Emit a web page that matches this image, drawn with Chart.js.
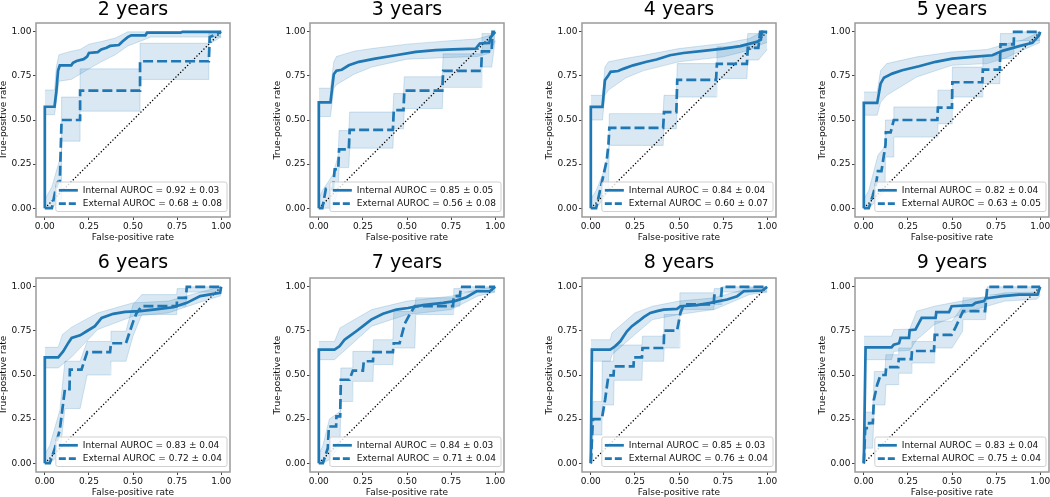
<!DOCTYPE html>
<html>
<head>
<meta charset="utf-8">
<script src="https://cdn.jsdelivr.net/npm/chart.js@4.4.0/dist/chart.umd.min.js"></script>
<style>
  html, body { margin: 0; padding: 0; background: #fff; }
  #wrap { position: relative; width: 1050px; height: 497px; overflow: hidden; }
  #wrap canvas { position: absolute; }
</style>
</head>
<body>
<div id="wrap"></div>
<script>
  // panel titles and AUROC (mean, sd)
  const titles = ['2 years', '3 years', '4 years', '5 years', '6 years', '7 years', '8 years', '9 years'];
  const intAuc = [0.92, 0.85, 0.84, 0.82, 0.83, 0.84, 0.85, 0.83];
  const intSd  = [0.03, 0.05, 0.04, 0.04, 0.04, 0.03, 0.03, 0.04];
  const extAuc = [0.68, 0.56, 0.60, 0.63, 0.72, 0.71, 0.76, 0.75];
  const extSd  = [0.08, 0.08, 0.07, 0.05, 0.04, 0.04, 0.04, 0.04];
  const tickVals = [0, 0.25, 0.5, 0.75, 1];

  // curves: [fpr, tpr]; bands: [fpr, lower, upper]
  const int2 = [[0,0],[0,0.575],[0.055,0.575],[0.065,0.66],[0.075,0.78],[0.085,0.81],[0.15,0.81],[0.16,0.825],[0.18,0.835],[0.22,0.845],[0.24,0.86],[0.25,0.88],[0.3,0.885],[0.32,0.9],[0.35,0.91],[0.37,0.92],[0.42,0.925],[0.44,0.945],[0.47,0.97],[0.49,0.98],[0.57,0.98],[0.58,0.995],[0.77,0.995],[0.78,1],[1,1]];
  const int2Band = [[0,0.53,0.67],[0.055,0.53,0.67],[0.065,0.6,0.8],[0.08,0.72,0.87],[0.15,0.73,0.89],[0.2,0.76,0.9],[0.25,0.79,0.93],[0.32,0.83,0.945],[0.4,0.87,0.965],[0.47,0.92,1],[0.55,0.95,1],[0.6,0.97,1],[1,0.97,1]];
  const ext2 = [[0,0],[0.04,0],[0.06,0.1],[0.075,0.15],[0.085,0.15],[0.095,0.5],[0.2,0.5],[0.2,0.667],[0.54,0.667],[0.54,0.833],[0.93,0.833],[0.935,0.97],[1,1]];
  const ext2Band = [[0,0,0.05],[0.04,0,0.12],[0.085,0.05,0.28],[0.095,0.05,0.28],[0.095,0.38,0.63],[0.2,0.38,0.63],[0.2,0.55,0.79],[0.54,0.55,0.79],[0.54,0.73,0.935],[0.93,0.73,0.935],[0.93,0.93,1],[1,0.97,1]];

  const int3 = [[0,0],[0,0.6],[0.066,0.6],[0.085,0.76],[0.1,0.78],[0.13,0.785],[0.17,0.81],[0.227,0.83],[0.32,0.848],[0.436,0.867],[0.55,0.886],[0.663,0.896],[0.758,0.9],[0.89,0.905],[0.913,0.934],[0.966,0.937],[0.975,0.97],[1,1]];
  const int3Band = [[0,0.52,0.68],[0.066,0.52,0.68],[0.085,0.68,0.83],[0.1,0.7,0.86],[0.2,0.76,0.89],[0.3,0.8,0.905],[0.5,0.845,0.93],[0.75,0.855,0.95],[0.9,0.86,0.96],[0.97,0.88,0.98],[1,0.95,1]];
  const ext3 = [[0,0],[0.02,0],[0.04,0.11],[0.08,0.11],[0.09,0.22],[0.11,0.22],[0.115,0.333],[0.17,0.333],[0.175,0.444],[0.42,0.444],[0.425,0.556],[0.48,0.556],[0.485,0.667],[0.7,0.667],[0.705,0.778],[0.92,0.778],[0.925,0.889],[0.98,0.889],[0.985,1],[1,1]];
  const ext3Band = [[0,0,0.05],[0.02,0,0.1],[0.08,0,0.19],[0.11,0.1,0.3],[0.115,0.23,0.44],[0.17,0.23,0.44],[0.175,0.34,0.545],[0.42,0.34,0.545],[0.425,0.45,0.65],[0.48,0.45,0.65],[0.485,0.565,0.745],[0.7,0.565,0.745],[0.705,0.685,0.875],[0.92,0.685,0.875],[0.925,0.8,0.99],[0.98,0.8,0.99],[1,0.95,1]];

  const int4 = [[0,0],[0,0.574],[0.066,0.574],[0.08,0.725],[0.1,0.754],[0.112,0.773],[0.155,0.778],[0.184,0.79],[0.24,0.81],[0.316,0.83],[0.373,0.843],[0.449,0.867],[0.525,0.88],[0.638,0.892],[0.752,0.905],[0.847,0.919],[0.941,0.943],[0.964,0.956],[0.97,1],[1,1]];
  const int4Band = [[0,0.5,0.64],[0.066,0.5,0.64],[0.08,0.64,0.8],[0.1,0.67,0.83],[0.2,0.74,0.85],[0.3,0.78,0.867],[0.5,0.83,0.905],[0.75,0.858,0.934],[0.9,0.896,0.962],[0.97,0.93,1],[1,0.94,1]];
  const ext4 = [[0,0],[0.03,0],[0.05,0.09],[0.07,0.18],[0.09,0.27],[0.1,0.36],[0.105,0.455],[0.41,0.455],[0.415,0.545],[0.485,0.545],[0.49,0.727],[0.71,0.727],[0.715,0.818],[0.885,0.818],[0.89,0.909],[0.95,0.909],[0.96,1],[1,1]];
  const ext4Band = [[0,0,0.05],[0.03,0,0.1],[0.07,0.05,0.2],[0.1,0.1,0.3],[0.105,0.356,0.536],[0.41,0.356,0.536],[0.415,0.45,0.64],[0.485,0.45,0.64],[0.49,0.63,0.82],[0.71,0.63,0.82],[0.715,0.735,0.915],[0.885,0.735,0.915],[0.89,0.84,0.99],[0.95,0.84,0.99],[1,0.9,1]];

  const int5 = [[0,0],[0,0.597],[0.076,0.597],[0.095,0.706],[0.114,0.74],[0.161,0.763],[0.218,0.782],[0.313,0.805],[0.407,0.83],[0.502,0.848],[0.616,0.858],[0.729,0.867],[0.786,0.892],[0.881,0.919],[0.956,0.9375],[0.994,0.98],[1,1]];
  const int5Band = [[0,0.527,0.659],[0.076,0.527,0.659],[0.095,0.6,0.78],[0.13,0.64,0.82],[0.3,0.744,0.858],[0.5,0.81,0.886],[0.7,0.82,0.9],[0.8,0.85,0.93],[0.9,0.896,0.953],[1,0.94,1]];
  const ext5 = [[0,0],[0.028,0],[0.05,0.07],[0.07,0.14],[0.08,0.21],[0.1,0.21],[0.123,0.36],[0.125,0.43],[0.152,0.43],[0.17,0.5],[0.417,0.5],[0.42,0.57],[0.5,0.57],[0.502,0.714],[0.672,0.714],[0.675,0.786],[0.771,0.786],[0.775,0.929],[0.85,0.929],[0.852,1],[1,1]];
  const ext5Band = [[0,0,0.05],[0.028,0,0.1],[0.08,0.05,0.3],[0.12,0.1,0.35],[0.123,0.29,0.5],[0.17,0.29,0.5],[0.17,0.403,0.574],[0.417,0.403,0.574],[0.42,0.479,0.669],[0.5,0.479,0.669],[0.502,0.63,0.8],[0.672,0.63,0.8],[0.675,0.706,0.867],[0.771,0.706,0.867],[0.775,0.848,0.99],[0.85,0.848,0.99],[0.852,0.95,1],[1,0.95,1]];

  const int6 = [[0,0],[0,0.6],[0.076,0.6],[0.104,0.634],[0.133,0.682],[0.152,0.71],[0.2,0.725],[0.237,0.748],[0.284,0.777],[0.322,0.824],[0.388,0.847],[0.455,0.858],[0.54,0.862],[0.616,0.871],[0.729,0.884],[0.805,0.909],[0.881,0.947],[0.956,0.96],[0.994,0.966],[1,1]];
  const int6Band = [[0,0.54,0.657],[0.076,0.54,0.657],[0.1,0.56,0.73],[0.15,0.6,0.77],[0.3,0.758,0.852],[0.5,0.833,0.909],[0.7,0.852,0.919],[0.9,0.919,0.975],[1,0.95,1]];
  const ext6 = [[0,0],[0.028,0],[0.057,0.085],[0.085,0.19],[0.114,0.42],[0.14,0.42],[0.142,0.53],[0.208,0.53],[0.24,0.63],[0.37,0.63],[0.375,0.68],[0.46,0.68],[0.5,0.8],[0.52,0.85],[0.55,0.89],[0.748,0.89],[0.75,0.9375],[0.8,0.9375],[0.805,1],[1,1]];
  const ext6Band = [[0,0,0.05],[0.028,0,0.1],[0.085,0.05,0.3],[0.114,0.31,0.578],[0.2,0.31,0.578],[0.24,0.5,0.69],[0.37,0.5,0.69],[0.375,0.578,0.748],[0.46,0.578,0.748],[0.5,0.72,0.9],[0.55,0.843,0.956],[0.748,0.843,0.956],[0.75,0.89,0.99],[0.8,0.89,0.99],[0.805,0.97,1],[1,0.97,1]];

  const int7 = [[0,0],[0,0.644],[0.089,0.644],[0.117,0.663],[0.146,0.7],[0.174,0.72],[0.212,0.748],[0.25,0.777],[0.297,0.814],[0.364,0.847],[0.44,0.871],[0.506,0.88],[0.59,0.896],[0.705,0.909],[0.77,0.919],[0.837,0.941],[0.894,0.975],[0.97,0.975],[1,1]];
  const int7Band = [[0,0.587,0.69],[0.089,0.587,0.69],[0.12,0.615,0.767],[0.3,0.777,0.871],[0.5,0.843,0.919],[0.75,0.871,0.947],[0.9,0.947,0.985],[1,0.97,1]];
  const ext7 = [[0,0],[0.023,0],[0.051,0.085],[0.057,0.208],[0.098,0.208],[0.1,0.265],[0.121,0.265],[0.125,0.473],[0.174,0.473],[0.193,0.525],[0.25,0.525],[0.255,0.578],[0.307,0.578],[0.31,0.63],[0.42,0.63],[0.425,0.68],[0.458,0.68],[0.487,0.79],[0.515,0.843],[0.544,0.89],[0.761,0.89],[0.765,0.947],[0.8,0.947],[0.805,1],[1,1]];
  const ext7Band = [[0,0,0.05],[0.023,0,0.1],[0.06,0.02,0.25],[0.12,0.1,0.293],[0.125,0.35,0.54],[0.19,0.35,0.54],[0.193,0.464,0.634],[0.307,0.464,0.634],[0.31,0.559,0.7],[0.42,0.559,0.7],[0.425,0.653,0.86],[0.544,0.653,0.86],[0.55,0.843,0.9375],[0.761,0.843,0.9375],[0.765,0.89,0.99],[0.8,0.89,0.99],[0.805,0.97,1],[1,0.97,1]];

  const int8 = [[0,0],[0.006,0.644],[0.11,0.644],[0.138,0.663],[0.167,0.691],[0.186,0.72],[0.205,0.748],[0.233,0.777],[0.271,0.805],[0.3,0.828],[0.337,0.852],[0.375,0.862],[0.413,0.871],[0.489,0.875],[0.508,0.89],[0.602,0.896],[0.678,0.909],[0.773,0.928],[0.83,0.947],[0.867,0.975],[0.972,0.979],[1,1]];
  const int8Band = [[0,0.578,0.7],[0.11,0.578,0.7],[0.12,0.615,0.739],[0.25,0.73,0.852],[0.35,0.814,0.89],[0.5,0.843,0.919],[0.7,0.871,0.9375],[0.9,0.956,0.994],[1,0.97,1]];
  const ext8 = [[0,0],[0.012,0.25],[0.0625,0.25],[0.081,0.36],[0.1,0.498],[0.129,0.498],[0.132,0.549],[0.242,0.549],[0.245,0.6],[0.29,0.6],[0.293,0.653],[0.413,0.653],[0.416,0.752],[0.489,0.752],[0.508,0.852],[0.527,0.9],[0.697,0.9],[0.7,0.95],[0.74,0.95],[0.743,1],[1,1]];
  const ext8Band = [[0,0,0.1],[0.012,0.16,0.35],[0.0625,0.16,0.35],[0.065,0.33,0.578],[0.129,0.33,0.578],[0.132,0.47,0.67],[0.29,0.47,0.67],[0.293,0.578,0.72],[0.413,0.578,0.72],[0.416,0.653,0.843],[0.5,0.653,0.843],[0.505,0.871,0.966],[0.697,0.871,0.966],[0.7,0.9,0.99],[0.74,0.9,0.99],[0.743,0.97,1],[1,0.97,1]];

  const int9 = [[0,0],[0.01,0.657],[0.157,0.657],[0.17,0.672],[0.2,0.68],[0.208,0.71],[0.256,0.71],[0.26,0.754],[0.293,0.758],[0.328,0.824],[0.407,0.824],[0.411,0.856],[0.483,0.856],[0.498,0.89],[0.616,0.896],[0.634,0.909],[0.682,0.919],[0.69,0.934],[0.786,0.947],[0.88,0.956],[0.985,0.956],[1,1]];
  const int9Band = [[0,0.587,0.72],[0.157,0.587,0.72],[0.17,0.634,0.758],[0.26,0.64,0.76],[0.3,0.7,0.862],[0.4,0.786,0.89],[0.5,0.824,0.909],[0.6,0.862,0.928],[0.8,0.919,0.966],[0.98,0.93,0.97],[1,0.95,1]];
  const ext9 = [[0,0],[0.008,0.199],[0.028,0.199],[0.03,0.227],[0.051,0.227],[0.057,0.36],[0.076,0.445],[0.095,0.5],[0.123,0.5],[0.127,0.545],[0.195,0.545],[0.198,0.59],[0.27,0.59],[0.273,0.636],[0.398,0.636],[0.402,0.727],[0.498,0.727],[0.52,0.77],[0.5625,0.862],[0.6875,0.862],[0.7,1],[1,1]];
  const ext9Band = [[0,0,0.1],[0.01,0.085,0.29],[0.05,0.085,0.29],[0.06,0.33,0.52],[0.12,0.33,0.52],[0.125,0.445,0.615],[0.195,0.445,0.615],[0.198,0.51,0.653],[0.27,0.51,0.653],[0.273,0.568,0.69],[0.398,0.568,0.69],[0.402,0.653,0.805],[0.5,0.653,0.805],[0.56,0.748,0.89],[0.5625,0.814,0.9375],[0.69,0.814,0.9375],[0.7,0.956,1],[1,0.956,1]];

  const intCurves = [int2, int3, int4, int5, int6, int7, int8, int9];
  const intBands = [int2Band, int3Band, int4Band, int5Band, int6Band, int7Band, int8Band, int9Band];
  const extCurves = [ext2, ext3, ext4, ext5, ext6, ext7, ext8, ext9];
  const extBands = [ext2Band, ext3Band, ext4Band, ext5Band, ext6Band, ext7Band, ext8Band, ext9Band];

  // layout
  const plotLefts = [36, 310, 582, 855];
  const plotTops = [23, 278];
  const titleShift = [2, 0];
  const yAxisW = 40, xAxisH = 30, titleH = 24, rightPad = 14, plotSize = 194;

  const blue = '#1f77b4';
  const bandFill = 'rgba(31,119,180,0.17)';
  const bandEdge = 'rgba(31,119,180,0.24)';
  const dashExt = [10, 4];
  const textCol = '#111';

  Chart.defaults.font.family = 'DejaVu Sans';
  Chart.defaults.color = textCol;

  const pts = arr => arr.map(p => ({ x: p[0], y: p[1] }));
  const lo = arr => arr.map(p => ({ x: p[0], y: p[1] }));
  const hi = arr => arr.map(p => ({ x: p[0], y: p[2] }));

  const framePlugin = {
    id: 'frameLegend',
    afterDraw(chart, args, opts) {
      const { ctx, chartArea: a } = chart;
      ctx.save();
      ctx.strokeStyle = '#9a9a9a';
      ctx.lineWidth = 1.5;
      ctx.strokeRect(a.left, a.top, a.right - a.left, a.bottom - a.top);

      // legend box, lower right inside the plot
      ctx.font = '9px "DejaVu Sans"';
      const tw = Math.max(...opts.labels.map(t => ctx.measureText(t).width));
      const w = 27 + tw + 5, h = 29.5;
      const x = a.right - 3 - w, y = a.bottom - 5.5 - h;
      ctx.beginPath();
      ctx.roundRect(x, y, w, h, 2);
      ctx.fillStyle = 'rgba(255,255,255,0.8)';
      ctx.fill();
      ctx.strokeStyle = '#d0d0d0';
      ctx.lineWidth = 1;
      ctx.stroke();
      opts.labels.forEach((t, i) => {
        const ly = y + 8.3 + i * 13.3;
        ctx.beginPath();
        ctx.strokeStyle = blue;
        ctx.lineWidth = 2.7;
        ctx.setLineDash(i === 0 ? [] : [7, 3]);
        ctx.moveTo(x + 3, ly);
        ctx.lineTo(x + 22, ly);
        ctx.stroke();
        ctx.setLineDash([]);
        ctx.fillStyle = textCol;
        ctx.textBaseline = 'middle';
        ctx.textAlign = 'left';
        ctx.fillText(t, x + 27, ly + 0.5);
      });
      ctx.restore();
    }
  };

  const wrap = document.getElementById('wrap');

  titles.forEach((title, i) => {
    const col = i % 4, row = Math.floor(i / 4);
    const cv = document.createElement('canvas');
    cv.width = yAxisW + plotSize + rightPad;
    cv.height = titleH + plotSize + xAxisH;
    cv.style.left = (plotLefts[col] - yAxisW) + 'px';
    cv.style.top = (plotTops[row] - titleH) + 'px';
    wrap.appendChild(cv);

    const axis = (label, fit) => ({
      type: 'linear',
      min: -0.05,
      max: 1.05,
      afterBuildTicks: s => { s.ticks = tickVals.map(v => ({ value: v })); },
      afterFit: fit,
      ticks: { callback: v => v.toFixed(2), font: { size: 9 }, color: textCol },
      grid: { display: true, drawOnChartArea: false, drawTicks: true, tickLength: 3, color: '#444' },
      border: { display: false },
      title: { display: true, text: label, font: { size: 9 }, color: textCol }
    });

    const xAxis = axis('False-positive rate', s => { s.height = xAxisH; });
    xAxis.ticks.padding = 1;
    xAxis.title.padding = { top: 0, bottom: 4.4 };
    const yAxis = axis('True-positive rate', s => { s.width = yAxisW; });
    yAxis.ticks.padding = 1.5;
    yAxis.title.padding = { top: 2.5, bottom: 0 };

    new Chart(cv, {
      type: 'line',
      data: {
        datasets: [
          { data: pts(intCurves[i]), borderColor: blue, borderWidth: 2.7, order: 0 },
          { data: pts(extCurves[i]), borderColor: blue, borderWidth: 2.7, borderDash: dashExt, order: 1 },
          { data: [{ x: 0, y: 0 }, { x: 1, y: 1 }], borderColor: '#000', borderWidth: 1.3, borderDash: [1.3, 2], order: 2 },
          { data: hi(intBands[i]), borderColor: bandEdge, borderWidth: 0.8, backgroundColor: bandFill, fill: '+1', order: 3 },
          { data: lo(intBands[i]), borderColor: bandEdge, borderWidth: 0.8, fill: false, order: 4 },
          { data: hi(extBands[i]), borderColor: bandEdge, borderWidth: 0.8, backgroundColor: bandFill, fill: '+1', order: 5 },
          { data: lo(extBands[i]), borderColor: bandEdge, borderWidth: 0.8, fill: false, order: 6 }
        ]
      },
      options: {
        responsive: false,
        animation: false,
        events: [],
        devicePixelRatio: 1,
        layout: { padding: { left: 0, right: rightPad, top: 0, bottom: 0 } },
        elements: { point: { radius: 0 }, line: { tension: 0 } },
        scales: { x: xAxis, y: yAxis },
        plugins: {
          legend: { display: false },
          tooltip: { enabled: false },
          title: {
            display: true,
            text: title,
            fullSize: false,
            color: '#000',
            font: { size: 19, weight: 'normal', lineHeight: 1 },
            padding: { top: titleShift[row], bottom: titleH - 19 - titleShift[row] }
          },
          frameLegend: {
            labels: [
              'Internal AUROC = ' + intAuc[i].toFixed(2) + ' ± ' + intSd[i].toFixed(2),
              'External AUROC = ' + extAuc[i].toFixed(2) + ' ± ' + extSd[i].toFixed(2)
            ]
          }
        }
      },
      plugins: [framePlugin]
    });
  });
</script>
</body>
</html>
